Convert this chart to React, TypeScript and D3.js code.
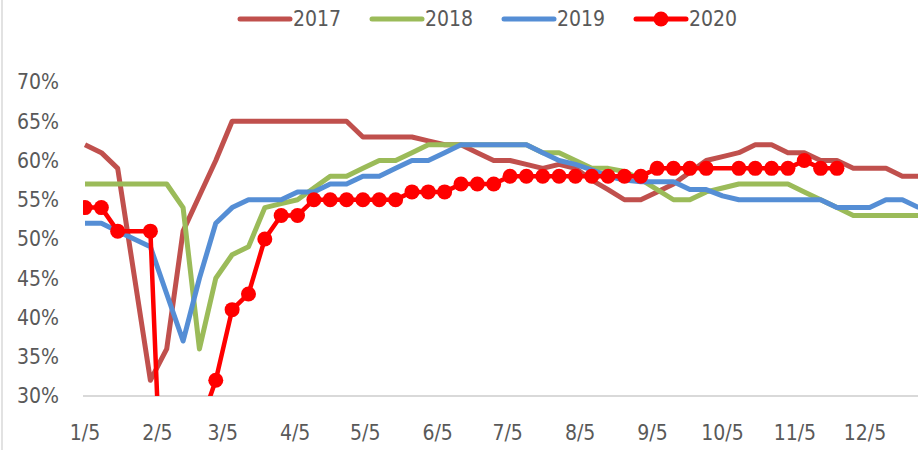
import React, { useEffect, useRef } from 'react';
import * as d3 from 'd3';

// weekly readings, first week on 1/5
const years = ['2017', '2018', '2019', '2020'];

const s2017 = [
  62, 61, 59, 45.5, 32, 36, 51, 55.5, 60, 65, 65, 65, 65, 65, 65, 65, 65, 63, 63, 63,
  63, 62.5, 62, 62, 61, 60, 60, 59.5, 59, 59.5, 59, 57.5, 56.3, 55, 55, 56, 57, 58.5, 60, 60.5,
  61, 62, 62, 61, 61, 60, 60, 59, 59, 59, 58, 58,
];
const s2018 = [
  57, 57, 57, 57, 57, 57, 54, 36, 45, 48, 49, 54, 54.5, 55, 56.5, 58, 58, 59, 60, 60,
  61, 62, 62, 62, 62, 62, 62, 62, 61, 61, 60, 59, 59, 58.6, 57.6, 56.3, 55, 55, 56, 56.5,
  57, 57, 57, 57, 56, 55, 54, 53, 53, 53, 53, 53,
];
const s2019 = [
  52, 52, 51, 50, 49, 43, 37, 45, 52, 54, 55, 55, 55, 56, 56, 57, 57, 58, 58, 59,
  60, 60, 61, 62, 62, 62, 62, 62, 61, 60, 59.5, 58.8, 58, 57.5, 57.3, 57.3, 57.3, 56.3, 56.3, 55.5,
  55, 55, 55, 55, 55, 55, 54, 54, 54, 55, 55, 54,
];
const s2020 = [
  54, 54, 51, null, 51, 0, 0, 26, 32, 41, 43, 50, 53, 53, 55, 55, 55, 55, 55, 55,
  56, 56, 56, 57, 57, 57, 58, 58, 58, 58, 58, 58, 58, 58, 58, 59, 59, 59, 59, null,
  59, 59, 59, 59, 60, 59, 59, null, null, null, null, null,
];
const seriesValues = [s2017, s2018, s2019, s2020];
const colors = ['#C0504D', '#9BBB59', '#558ED5', '#FF0000'];

const yTicks = [0.3, 0.35, 0.4, 0.45, 0.5, 0.55, 0.6, 0.65, 0.7];
const firstWeek = new Date(2019, 0, 5);
const tickMonths = d3.range(12);

const App = () => {
  const svgRef = useRef(null);

  useEffect(() => {
    const width = 918;
    const height = 450;
    const font = '"Liberation Sans Narrow", "Arial Narrow", "DejaVu Sans Condensed", sans-serif';

    const svg = d3.select(svgRef.current);
    svg.selectAll('*').remove();
    svg.attr('width', width).attr('height', height);

    const weeks = s2017.map((d, i) => d3.timeDay.offset(firstWeek, 7 * i));

    const x = d3.scaleTime()
      .domain([firstWeek, new Date(2019, 11, 5)])
      .range([85, 865]);
    const y = d3.scaleLinear().domain([0.3, 0.7]).range([396, 82]);

    // chart border (left edge only is visible)
    svg.append('line')
      .attr('x1', 2).attr('x2', 2).attr('y1', 0).attr('y2', height)
      .attr('stroke', '#D9D9D9').attr('stroke-width', 1.5);

    svg.append('defs').append('clipPath').attr('id', 'plot-clip')
      .append('rect').attr('x', 83).attr('y', 0).attr('width', width - 83).attr('height', 396);

    // baseline at 30%
    svg.append('line')
      .attr('x1', 83).attr('x2', width).attr('y1', y(0.3)).attr('y2', y(0.3))
      .attr('stroke', '#D9D9D9').attr('stroke-width', 2);

    svg.append('g').selectAll('text')
      .data(yTicks)
      .enter()
      .append('text')
      .attr('x', 59)
      .attr('y', d => y(d))
      .attr('dy', '0.35em')
      .attr('text-anchor', 'end')
      .attr('font-family', font)
      .attr('font-size', 21)
      .attr('fill', '#595959')
      .text(d => d3.format('.0%')(d));

    svg.append('g').selectAll('text')
      .data(tickMonths.map(m => new Date(2019, m, 5)))
      .enter()
      .append('text')
      .attr('x', d => x(d))
      .attr('y', 440)
      .attr('text-anchor', 'middle')
      .attr('font-family', font)
      .attr('font-size', 21)
      .attr('fill', '#595959')
      .text(d => d3.timeFormat('%-m/%-d')(d));

    const plot = svg.append('g').attr('clip-path', 'url(#plot-clip)');

    const line = d3.line()
      .defined(d => d[1] != null)
      .x(d => x(d[0]))
      .y(d => y(d[1] / 100));

    seriesValues.forEach((vals, k) => {
      const pts = vals.map((v, i) => [weeks[i], v]).filter(d => d[1] != null);
      plot.append('path')
        .datum(pts)
        .attr('d', line)
        .attr('fill', 'none')
        .attr('stroke', colors[k])
        .attr('stroke-width', k === 3 ? 4.5 : 5)
        .attr('stroke-linejoin', 'round');
      if (k === 3) {
        plot.selectAll('.marker')
          .data(pts)
          .enter()
          .append('circle')
          .attr('class', 'marker')
          .attr('cx', d => x(d[0]))
          .attr('cy', d => y(d[1] / 100))
          .attr('r', 7.5)
          .attr('fill', colors[k]);
      }
    });

    // legend
    const legendX = [238, 370, 502, 634];
    const legend = svg.append('g');
    years.forEach((yr, k) => {
      const g = legend.append('g').attr('transform', `translate(${legendX[k]},19)`);
      g.append('line')
        .attr('x1', 2).attr('x2', 52).attr('y1', 0).attr('y2', 0)
        .attr('stroke', colors[k]).attr('stroke-width', 5).attr('stroke-linecap', 'round');
      if (k === 3) {
        g.append('circle').attr('cx', 27).attr('cy', 0).attr('r', 7.5).attr('fill', colors[k]);
      }
      g.append('text')
        .attr('x', 55)
        .attr('y', 0)
        .attr('dy', '0.35em')
        .attr('font-family', font)
        .attr('font-size', 21)
        .attr('fill', '#595959')
        .text(yr);
    });
  }, []);

  return <svg ref={svgRef} style={{ position: 'absolute', left: 0, top: 0 }}></svg>;
};

export default App;
